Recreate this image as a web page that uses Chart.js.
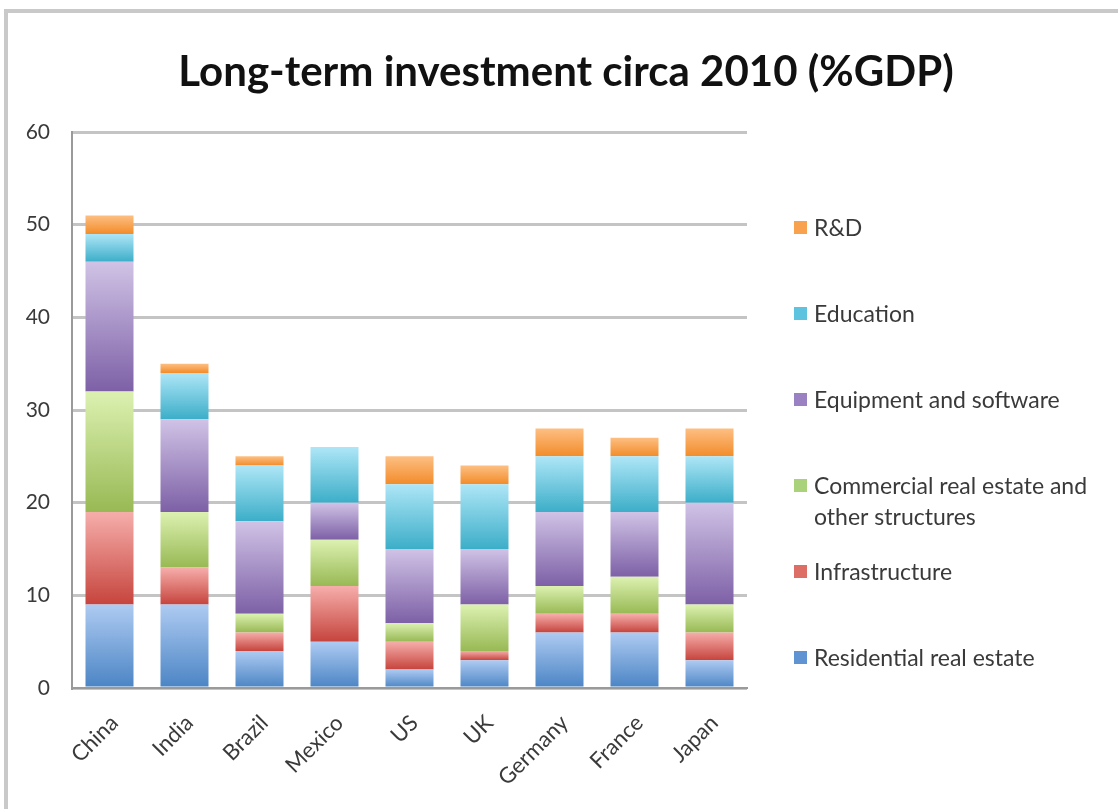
<!DOCTYPE html>
<html>
<head>
<meta charset="utf-8">
<script src="https://cdn.jsdelivr.net/npm/chart.js@4/dist/chart.umd.min.js"></script>
<style>
  html, body { margin: 0; padding: 0; background: #fff; }
  #wrap { width: 1118px; height: 809px; position: relative; }
</style>
</head>
<body>
<div id="wrap"><canvas id="invest" width="1118" height="809"></canvas></div>
<script>
const countries = ['China', 'India', 'Brazil', 'Mexico', 'US', 'UK', 'Germany', 'France', 'Japan'];
const yTicks = [0, 10, 20, 30, 40, 50, 60];
const chartTitle = 'Long-term investment circa 2010 (%GDP)';

// % of GDP per component, bottom of the stack first
const residential = [9, 9, 4, 5, 2, 3, 6, 6, 3];
const infrastructure = [10, 4, 2, 6, 3, 1, 2, 2, 3];
const commercial = [13, 6, 2, 5, 2, 5, 3, 4, 3];
const equipment = [14, 10, 10, 4, 8, 6, 8, 7, 11];
const education = [3, 5, 6, 6, 7, 7, 6, 6, 5];
const rnd = [2, 1, 1, 0, 3, 2, 3, 2, 3];

const seriesNames = ['Residential real estate', 'Infrastructure', 'Commercial real estate and\nother structures',
  'Equipment and software', 'Education', 'R&D'];
const seriesValues = [residential, infrastructure, commercial, equipment, education, rnd];
// [light top, dark bottom, legend swatch]
const shades = [
  ['#aecbf2', '#4a84c4', '#5f93d2'],
  ['#f6aeab', '#c6443d', '#dc6e66'],
  ['#dcf1b1', '#98b954', '#a9d27a'],
  ['#d0c3e6', '#7d60a6', '#9a82c2'],
  ['#aee6f7', '#3caec8', '#5ec3de'],
  ['#fdbf82', '#f28c2a', '#f8a14f'],
];

const FONT = 'Lato, "Open Sans", sans-serif';

function stackStart(si, i) {
  let s = 0;
  for (let k = 0; k < si; k++) s += seriesValues[k][i];
  return s;
}

// vertical gradient per segment, light at the top
function barFill(si) {
  return (ctx) => {
    const y = ctx.chart.scales.y;
    if (!y || ctx.type !== 'data') return shades[si][2];
    const i = ctx.dataIndex;
    const from = stackStart(si, i);
    const top = y.getPixelForValue(from + seriesValues[si][i]);
    const bottom = y.getPixelForValue(from);
    if (!isFinite(top) || !isFinite(bottom) || top === bottom) return shades[si][2];
    const g = ctx.chart.ctx.createLinearGradient(0, top, 0, bottom);
    g.addColorStop(0, shades[si][0]);
    g.addColorStop(1, shades[si][1]);
    return g;
  };
}

const datasets = seriesValues.map((vals, si) => ({
  label: seriesNames[si],
  data: vals,
  backgroundColor: barFill(si),
  borderWidth: 0,
  categoryPercentage: 1,
  barPercentage: 0.64,
}));

// white background, frame lines along the top and left edge, title
const framePlugin = {
  id: 'frame',
  beforeDraw(chart) {
    const c = chart.ctx;
    c.save();
    c.fillStyle = '#fff';
    c.fillRect(0, 0, chart.width, chart.height);
    c.strokeStyle = '#c9c9c9';
    c.lineWidth = 4;
    c.beginPath();
    c.moveTo(6, chart.height);
    c.lineTo(6, 11);
    c.lineTo(chart.width, 11);
    c.stroke();
    c.font = 'bold 42px ' + FONT;
    c.fillStyle = '#111';
    c.textAlign = 'center';
    c.textBaseline = 'middle';
    c.fillText(chartTitle, 566, 72);
    c.restore();
  },
};

// legend on the right, top entry is the top of the stack
const sideLegend = {
  id: 'sideLegend',
  afterDraw(chart) {
    const c = chart.ctx;
    c.save();
    c.font = '23px ' + FONT;
    c.textBaseline = 'middle';
    const x = 794;
    let y = 229;
    for (let si = seriesNames.length - 1; si >= 0; si--) {
      c.fillStyle = shades[si][2];
      c.fillRect(x, y - 8, 13, 13);
      c.fillStyle = '#3a3a3a';
      seriesNames[si].split('\n').forEach((line, li) => {
        c.fillText(line, x + 20, y + li * 31);
      });
      y += 86;
    }
    c.restore();
  },
};

new Chart(document.getElementById('invest'), {
  type: 'bar',
  data: { labels: countries, datasets },
  plugins: [framePlugin, sideLegend],
  options: {
    responsive: false,
    animation: false,
    layout: { padding: { left: 0, right: 371, top: 132, bottom: 0 } },
    plugins: {
      legend: { display: false },
      tooltip: { enabled: false },
      title: { display: false },
    },
    scales: {
      x: {
        stacked: true,
        grid: { display: false, drawTicks: false },
        border: { display: true, color: '#9a9a9a', width: 2 },
        ticks: {
          color: '#3a3a3a',
          font: { family: FONT, size: 22 },
          minRotation: 45,
          maxRotation: 45,
          padding: 22,
          labelOffset: 5,
        },
        afterFit(s) { s.height = 121; },
      },
      y: {
        stacked: true,
        min: 0,
        max: 60,
        afterBuildTicks(s) { s.ticks = yTicks.map((v) => ({ value: v })); },
        grid: { color: '#c4c4c4', lineWidth: 3, drawTicks: false },
        border: { display: true, color: '#9a9a9a', width: 2 },
        ticks: {
          color: '#3a3a3a',
          font: { family: FONT, size: 21 },
          padding: 22,
        },
        afterFit(s) { s.width = 72; },
      },
    },
  },
});
</script>
</body>
</html>
